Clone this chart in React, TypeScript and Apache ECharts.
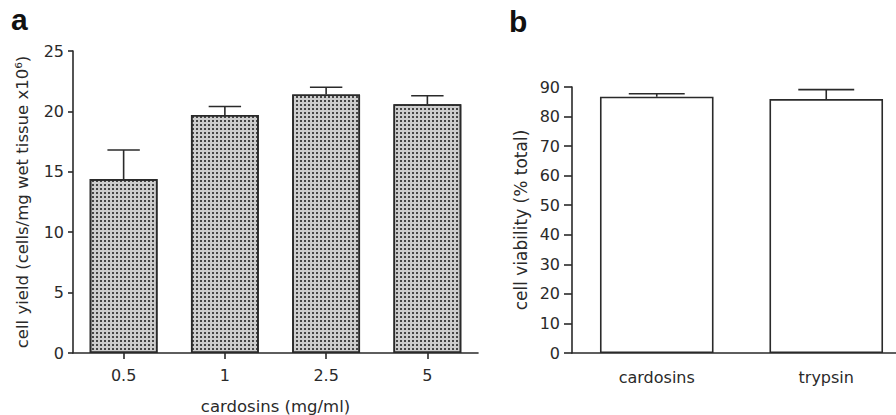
import React, { useEffect, useRef } from "react";
import * as echarts from "echarts";

const doseCategories = ["0.5", "1", "2.5", "5"];
const yieldMeans = [14.4, 19.7, 21.4, 20.6];
const yieldSem = [2.4, 0.7, 0.6, 0.7];
const yieldTicks = { min: 0, max: 25, interval: 5 };

const enzymeCategories = ["cardosins", "trypsin"];
const viabilityMeans = [86.7, 85.9];
const viabilitySem = [1.0, 3.2];
const viabilityTicks = { min: 0, max: 90, interval: 10 };

const FONT = "DejaVu Sans";
const INK = "#2a2a2a";

function errorSeries(means: number[], sem: number[], axisIndex: number, capFrac: number) {
  return {
    type: "custom",
    xAxisIndex: axisIndex,
    yAxisIndex: axisIndex,
    z: 5,
    data: means.map((m, i) => [i, m, m + sem[i]]),
    renderItem: (params: any, api: any) => {
      const idx = api.value(0);
      const base = api.coord([idx, api.value(1)]);
      const top = api.coord([idx, api.value(2)]);
      const half = (api.size([1, 0])[0] * capFrac) / 2;
      const style = { stroke: INK, lineWidth: 1.6 };
      return {
        type: "group",
        children: [
          { type: "line", shape: { x1: base[0], y1: base[1], x2: top[0], y2: top[1] }, style },
          { type: "line", shape: { x1: top[0] - half, y1: top[1], x2: top[0] + half, y2: top[1] }, style },
        ],
      };
    },
  };
}

export default function App() {
  const ref = useRef<HTMLDivElement>(null);
  useEffect(() => {
    if (!ref.current) return;
    const chart = echarts.init(ref.current, null, { renderer: "svg" });
    const axisLine = { show: true, lineStyle: { color: INK, width: 1.6 } };
    const labelStyle = { color: INK, fontFamily: FONT, fontSize: 16 };
    const nameStyle = { color: INK, fontFamily: FONT, fontSize: 16.5 };
    chart.setOption({
      animation: false,
      backgroundColor: "#ffffff",
      grid: [
        { left: 73, width: 405, top: 51, height: 302, containLabel: false, outerBoundsMode: "none" },
        { left: 572, width: 339, top: 87, height: 266, containLabel: false, outerBoundsMode: "none" },
      ],
      xAxis: [
        {
          type: "category",
          gridIndex: 0,
          data: doseCategories,
          axisLine,
          axisTick: { show: true, alignWithLabel: true, length: 6, lineStyle: { color: INK, width: 1.6 } },
          axisLabel: { ...labelStyle, margin: 14 },
          name: "cardosins (mg/ml)",
          nameLocation: "middle",
          nameGap: 45,
          nameTextStyle: nameStyle,
        },
        {
          type: "category",
          gridIndex: 1,
          data: enzymeCategories,
          axisLine,
          axisTick: { show: false },
          axisLabel: { ...labelStyle, margin: 16 },
        },
      ],
      yAxis: [
        {
          type: "value",
          gridIndex: 0,
          ...yieldTicks,
          axisLine,
          axisTick: { show: true, length: 5, lineStyle: { color: INK, width: 1.6 } },
          axisLabel: { ...labelStyle, margin: 9 },
          splitLine: { show: false },
          name: "cell yield (cells/mg wet tissue x10⁶)",
          nameLocation: "middle",
          nameGap: 42,
          nameTextStyle: nameStyle,
        },
        {
          type: "value",
          gridIndex: 1,
          ...viabilityTicks,
          axisLine,
          axisTick: { show: true, length: 8, lineStyle: { color: INK, width: 1.6 } },
          axisLabel: { ...labelStyle, margin: 12 },
          splitLine: { show: false },
          name: "cell viability (% total)",
          nameLocation: "middle",
          nameGap: 43,
          nameTextStyle: { ...nameStyle, fontSize: 17 },
        },
      ],
      series: [
        {
          type: "bar",
          xAxisIndex: 0,
          yAxisIndex: 0,
          data: yieldMeans,
          barWidth: "67%",
          itemStyle: {
            color: "#cdcdcd",
            borderColor: INK,
            borderWidth: 1.6,
            decal: {
              symbol: "rect",
              symbolSize: 1,
              dashArrayX: [1.5, 1.5],
              dashArrayY: [1.5, 1.5],
              color: "rgba(45,45,45,0.85)",
            },
          },
        },
        errorSeries(yieldMeans, yieldSem, 0, 0.32),
        {
          type: "bar",
          xAxisIndex: 1,
          yAxisIndex: 1,
          data: viabilityMeans,
          barWidth: "67%",
          itemStyle: { color: "#ffffff", borderColor: INK, borderWidth: 1.6 },
        },
        errorSeries(viabilityMeans, viabilitySem, 1, 0.33),
      ],
      graphic: [
        {
          type: "text",
          left: 11,
          top: 4,
          style: { text: "a", font: "bold 30px 'Liberation Sans'", fill: "#111" },
        },
        {
          type: "text",
          left: 509,
          top: 6,
          style: { text: "b", font: "bold 30px 'Liberation Sans'", fill: "#111" },
        },
      ],
    });
    return () => chart.dispose();
  }, []);
  return <div ref={ref} style={{ width: 896, height: 415, position: "absolute", left: 0, top: 0 }} />;
}
